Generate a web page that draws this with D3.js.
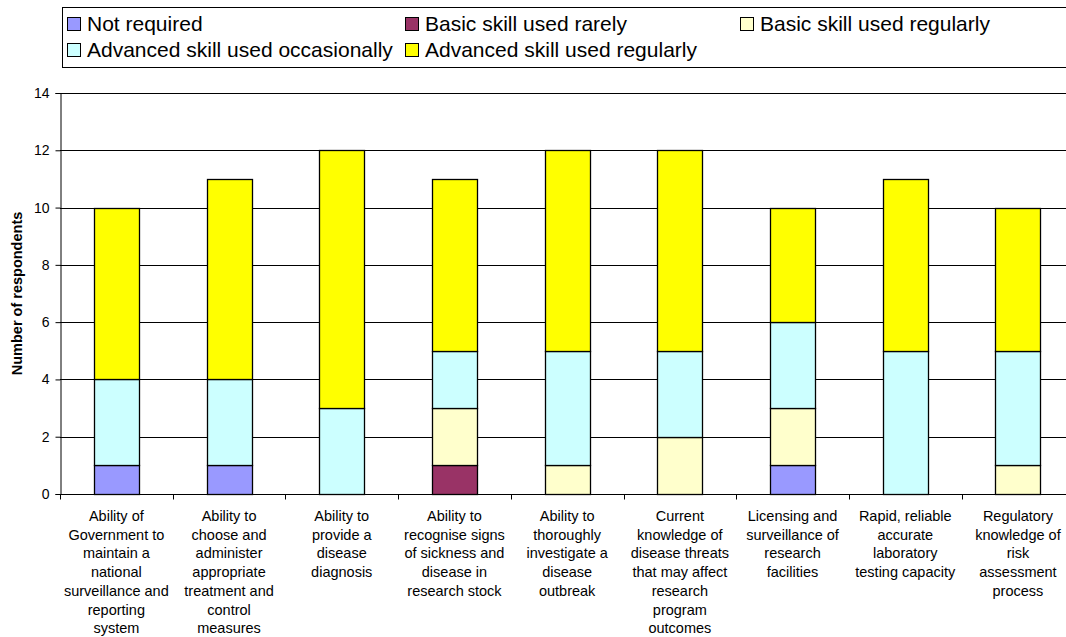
<!DOCTYPE html>
<html>
<head>
<meta charset="utf-8">
<script src="https://cdn.jsdelivr.net/npm/d3@7"></script>
<style>
  html, body { margin: 0; padding: 0; background: #fff; }
  svg { display: block; font-family: "Liberation Sans", Arial, sans-serif; }
</style>
</head>
<body>
<svg id="chart" width="1066" height="637"></svg>
<script>
// Skill categories (one stacked bar each)
const categories = [
  "Ability of Government to maintain a national surveillance and reporting system",
  "Ability to choose and administer appropriate treatment and control measures",
  "Ability to provide a disease diagnosis",
  "Ability to recognise signs of sickness and disease in research stock",
  "Ability to thoroughly investigate a disease outbreak",
  "Current knowledge of disease threats that may affect research program outcomes",
  "Licensing and surveillance of research facilities",
  "Rapid, reliable accurate laboratory testing capacity",
  "Regulatory knowledge of risk assessment process"
];

// Wrapped label lines for each category
const categoryLines = [
  ["Ability of", "Government to", "maintain a", "national", "surveillance and", "reporting", "system"],
  ["Ability to", "choose and", "administer", "appropriate", "treatment and", "control", "measures"],
  ["Ability to", "provide a", "disease", "diagnosis"],
  ["Ability to", "recognise signs", "of sickness and", "disease in", "research stock"],
  ["Ability to", "thoroughly", "investigate a", "disease", "outbreak"],
  ["Current", "knowledge of", "disease threats", "that may affect", "research", "program", "outcomes"],
  ["Licensing and", "surveillance of", "research", "facilities"],
  ["Rapid, reliable", "accurate", "laboratory", "testing capacity"],
  ["Regulatory", "knowledge of", "risk", "assessment", "process"]
];

// Series names (stack order, bottom to top)
const seriesNames = [
  "Not required",
  "Basic skill used rarely",
  "Basic skill used regularly",
  "Advanced skill used occasionally",
  "Advanced skill used regularly"
];
const seriesColors = ["#9999FF", "#993366", "#FFFFCC", "#CCFFFF", "#FFFF00"];

// Number of respondents per series, one value per category
const notRequired          = [1, 1, 0, 0, 0, 0, 1, 0, 0];
const basicRarely          = [0, 0, 0, 1, 0, 0, 0, 0, 0];
const basicRegularly       = [0, 0, 0, 2, 1, 2, 2, 0, 1];
const advancedOccasionally = [3, 3, 3, 2, 4, 3, 3, 5, 4];
const advancedRegularly    = [6, 7, 9, 6, 7, 7, 4, 6, 5];

const yTicks = [0, 2, 4, 6, 8, 10, 12, 14];

const seriesValues = [notRequired, basicRarely, basicRegularly, advancedOccasionally, advancedRegularly];
const table = categories.map((c, i) => {
  const row = { category: c };
  seriesNames.forEach((s, k) => { row[s] = seriesValues[k][i]; });
  return row;
});

const svg = d3.select("#chart");

const plotLeft = 60, bandW = 112.7;
const x = d3.scaleBand()
  .domain(categories)
  .range([plotLeft, plotLeft + bandW * categories.length])
  .paddingInner(0).paddingOuter(0);
const y = d3.scaleLinear().domain([0, 14]).range([494, 93]);

const barW = x.bandwidth() * 0.4;

// Gridlines
svg.append("g")
  .selectAll("line")
  .data(yTicks.filter(t => t > 0))
  .join("line")
  .attr("x1", plotLeft).attr("x2", x.range()[1])
  .attr("y1", d => Math.round(y(d)) + 0.5).attr("y2", d => Math.round(y(d)) + 0.5)
  .attr("stroke", "#000").attr("stroke-width", 1);

// Stacked bars
const stack = d3.stack().keys(seriesNames);
const layers = stack(table);
svg.append("g")
  .selectAll("g")
  .data(layers)
  .join("g")
  .attr("fill", (d, i) => seriesColors[i])
  .selectAll("rect")
  .data(d => d.filter(p => p[1] - p[0] > 0))
  .join("rect")
  .attr("x", d => Math.round(x(d.data.category) + (x.bandwidth() - barW) / 2) + 0.5)
  .attr("width", Math.round(barW))
  .attr("y", d => Math.round(y(d[1])) + 0.5)
  .attr("height", d => Math.round(y(d[0])) - Math.round(y(d[1])))
  .attr("stroke", "#000")
  .attr("stroke-width", 1.3);

// Y axis
const yAxis = svg.append("g")
  .attr("transform", `translate(${plotLeft + 0.5},0)`)
  .call(d3.axisLeft(y).tickValues(yTicks).tickSize(5).tickPadding(6).tickFormat(d3.format("d")));
yAxis.select(".domain").attr("stroke", "#000");
yAxis.selectAll(".tick line").attr("stroke", "#000");
yAxis.selectAll("text")
  .attr("font-size", 14).attr("fill", "#000")
  .attr("font-family", "'Liberation Sans', Arial, sans-serif");

// X axis (ticks at band boundaries)
const xBase = svg.append("g").attr("transform", `translate(0,${Math.round(y(0)) + 0.5})`);
xBase.append("line")
  .attr("x1", plotLeft).attr("x2", x.range()[1])
  .attr("stroke", "#000");
xBase.selectAll("line.tick")
  .data(d3.range(categories.length + 1))
  .join("line")
  .attr("class", "tick")
  .attr("x1", i => Math.round(plotLeft + i * x.step()) + 0.5)
  .attr("x2", i => Math.round(plotLeft + i * x.step()) + 0.5)
  .attr("y1", 0).attr("y2", 5)
  .attr("stroke", "#000");

// Category labels
const labelTop = 521, lineGap = 18.7;
const labelG = svg.append("g");
categories.forEach((c, i) => {
  const t = labelG.append("text")
    .attr("x", x(c) + x.bandwidth() / 2)
    .attr("y", labelTop)
    .attr("text-anchor", "middle")
    .attr("font-size", 14.5)
    .attr("fill", "#000");
  categoryLines[i].forEach((line, j) => {
    t.append("tspan").attr("x", x(c) + x.bandwidth() / 2).attr("y", labelTop + j * lineGap).text(line);
  });
});

// Y axis title
svg.append("text")
  .attr("transform", `translate(22,${(y(0) + y(14)) / 2}) rotate(-90)`)
  .attr("text-anchor", "middle")
  .attr("font-size", 14.5)
  .attr("font-weight", "bold")
  .attr("fill", "#000")
  .text("Number of respondents");

// Legend
svg.append("rect")
  .attr("x", 62.5).attr("y", 7.5)
  .attr("width", 1020).attr("height", 60)
  .attr("fill", "#fff").attr("stroke", "#000").attr("stroke-width", 1);

const legendPos = [
  [67, 17], [405, 17], [740, 17],
  [67, 43], [405, 43]
];
const legend = svg.append("g");
seriesNames.forEach((s, i) => {
  const [lx, ly] = legendPos[i];
  legend.append("rect")
    .attr("x", lx + 0.5).attr("y", ly + 0.5)
    .attr("width", 13).attr("height", 13)
    .attr("fill", seriesColors[i]).attr("stroke", "#000").attr("stroke-width", 1);
  legend.append("text")
    .attr("x", lx + 20).attr("y", ly + 14)
    .attr("font-size", 21)
    .attr("fill", "#000")
    .text(s);
});
</script>
</body>
</html>
